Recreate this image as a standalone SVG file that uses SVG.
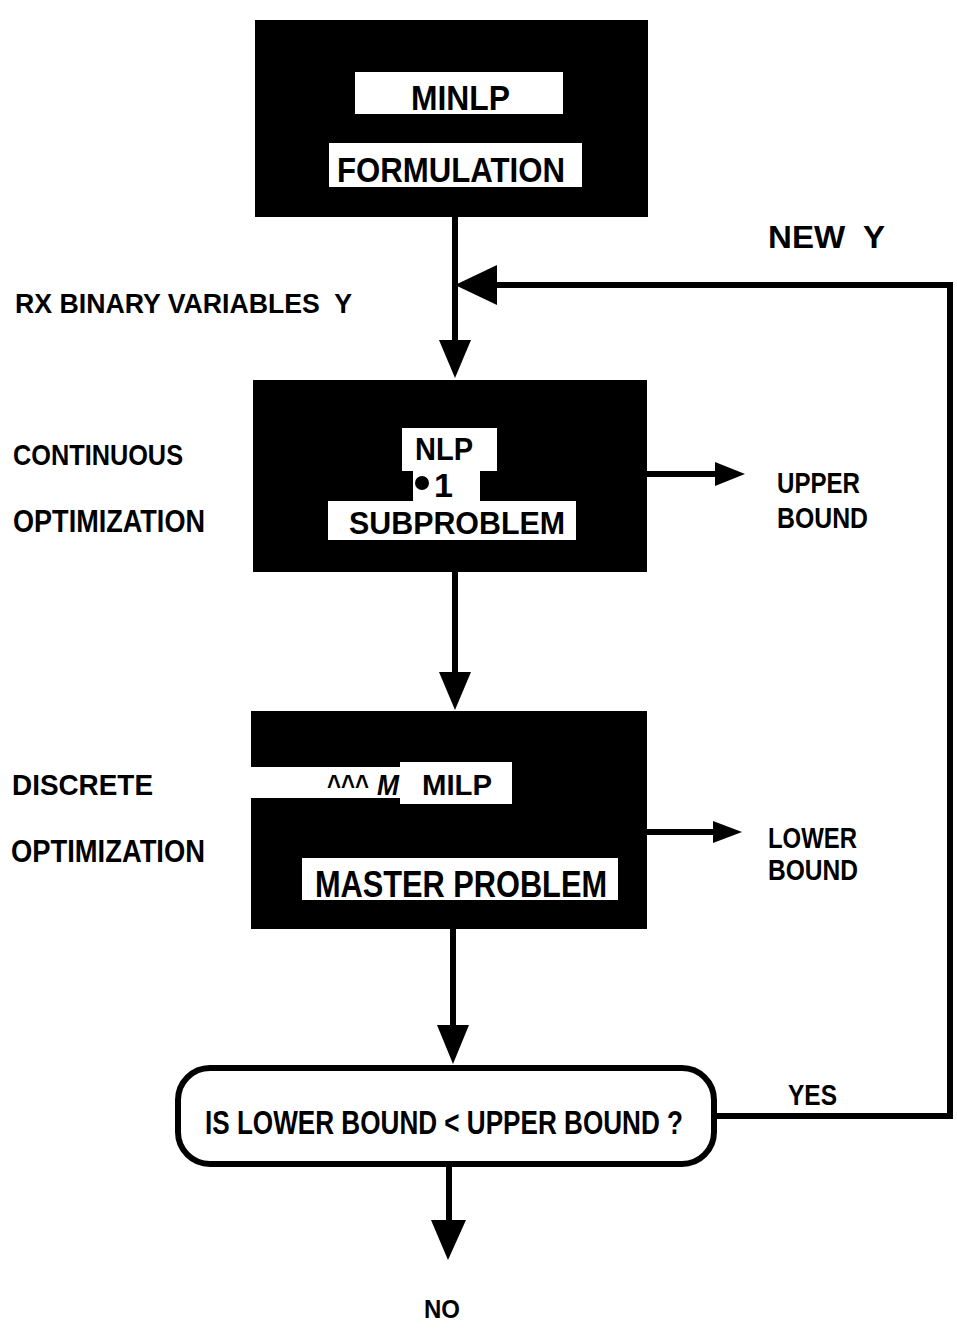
<svg xmlns="http://www.w3.org/2000/svg" width="957" height="1335" viewBox="0 0 957 1335">
<style>
text{font-family:"Liberation Sans",Arial,sans-serif;font-weight:bold;fill:#000;white-space:pre}
.box{fill:#000}
.win{fill:#fff}
.ln{stroke:#000;stroke-width:6;fill:none}
.hd{fill:#000}
</style>
<rect width="957" height="1335" fill="#fff"/>
<g id="connectors">
<line class="ln" x1="455" y1="217" x2="455" y2="345"/>
<polygon class="hd" points="439,340 471,340 455,378"/>
<path class="ln" stroke-width="5" d="M714,1116 H950 V285 H492"/>
<polygon class="hd" points="497,265 497,305 455,285"/>
<line class="ln" x1="455" y1="572" x2="455" y2="676"/>
<polygon class="hd" points="439,672 471,672 455,710"/>
<line class="ln" x1="453" y1="929" x2="453" y2="1030"/>
<polygon class="hd" points="437,1025 469,1025 453,1064"/>
<line class="ln" x1="449" y1="1165" x2="449" y2="1224"/>
<polygon class="hd" points="431,1220 466,1220 448,1260"/>
<line class="ln" stroke-width="5" x1="647" y1="474" x2="720" y2="474"/>
<polygon class="hd" points="715,462 745,474 715,486"/>
<line class="ln" stroke-width="5" x1="647" y1="832" x2="718" y2="832"/>
<polygon class="hd" points="713,821 742,832 713,843"/>
</g>
<g id="formulation">
<rect class="box" x="255" y="20" width="393" height="197"/>
<rect class="win" x="355" y="72" width="208" height="42"/>
<text x="411" y="110" font-size="35" textLength="99" lengthAdjust="spacingAndGlyphs">MINLP</text>
<rect class="win" x="329" y="143" width="253" height="44"/>
<text x="337" y="182" font-size="35" textLength="228" lengthAdjust="spacingAndGlyphs">FORMULATION</text>
</g>
<g id="nlp">
<rect class="box" x="253" y="380" width="394" height="192"/>
<rect class="win" x="402" y="428" width="95" height="43"/>
<rect class="win" x="413" y="470" width="67" height="33"/>
<rect class="win" x="328" y="501" width="248" height="39"/>
<text x="415" y="460" font-size="31" textLength="58" lengthAdjust="spacingAndGlyphs">NLP</text>
<circle cx="422" cy="483" r="7" fill="#000"/>
<text x="434" y="497" font-size="34" textLength="19" lengthAdjust="spacingAndGlyphs">1</text>
<text x="349" y="534" font-size="32" textLength="216" lengthAdjust="spacingAndGlyphs">SUBPROBLEM</text>
</g>
<g id="milp">
<rect class="box" x="251" y="711" width="396" height="218"/>
<rect class="win" x="251" y="767" width="152" height="31"/>
<rect class="win" x="400" y="762" width="112" height="42"/>
<text x="327" y="795" font-size="29" textLength="42" lengthAdjust="spacingAndGlyphs">^^^</text>
<text x="377" y="795" font-size="29" font-style="italic" textLength="22" lengthAdjust="spacingAndGlyphs">M</text>
<text x="422" y="795" font-size="29" textLength="70" lengthAdjust="spacingAndGlyphs">MILP</text>
<rect class="win" x="302" y="858" width="316" height="42"/>
<text x="315" y="897" font-size="37" textLength="292" lengthAdjust="spacingAndGlyphs">MASTER PROBLEM</text>
</g>
<g id="decision">
<rect x="178" y="1068" width="536" height="96" rx="32" fill="#fff" stroke="#000" stroke-width="6"/>
<text x="205" y="1134" font-size="33" textLength="478" lengthAdjust="spacingAndGlyphs">IS LOWER BOUND &lt; UPPER BOUND ?</text>
</g>
<g id="labels">
<text x="768" y="248" font-size="32" textLength="117" lengthAdjust="spacingAndGlyphs" xml:space="preserve">NEW  Y</text>
<text x="15" y="313" font-size="27" textLength="337" lengthAdjust="spacingAndGlyphs" xml:space="preserve">RX BINARY VARIABLES  Y</text>
<text x="13" y="465" font-size="30" textLength="170" lengthAdjust="spacingAndGlyphs">CONTINUOUS</text>
<text x="13" y="532" font-size="32" textLength="192" lengthAdjust="spacingAndGlyphs">OPTIMIZATION</text>
<text x="777" y="493" font-size="29" textLength="83" lengthAdjust="spacingAndGlyphs">UPPER</text>
<text x="777" y="528" font-size="29" textLength="91" lengthAdjust="spacingAndGlyphs">BOUND</text>
<text x="12" y="795" font-size="30" textLength="141" lengthAdjust="spacingAndGlyphs">DISCRETE</text>
<text x="11" y="862" font-size="32" textLength="194" lengthAdjust="spacingAndGlyphs">OPTIMIZATION</text>
<text x="768" y="848" font-size="29" textLength="89" lengthAdjust="spacingAndGlyphs">LOWER</text>
<text x="768" y="880" font-size="29" textLength="90" lengthAdjust="spacingAndGlyphs">BOUND</text>
<text x="788" y="1105" font-size="30" textLength="49" lengthAdjust="spacingAndGlyphs">YES</text>
<text x="424" y="1318" font-size="26" textLength="36" lengthAdjust="spacingAndGlyphs">NO</text>
</g>
</svg>
